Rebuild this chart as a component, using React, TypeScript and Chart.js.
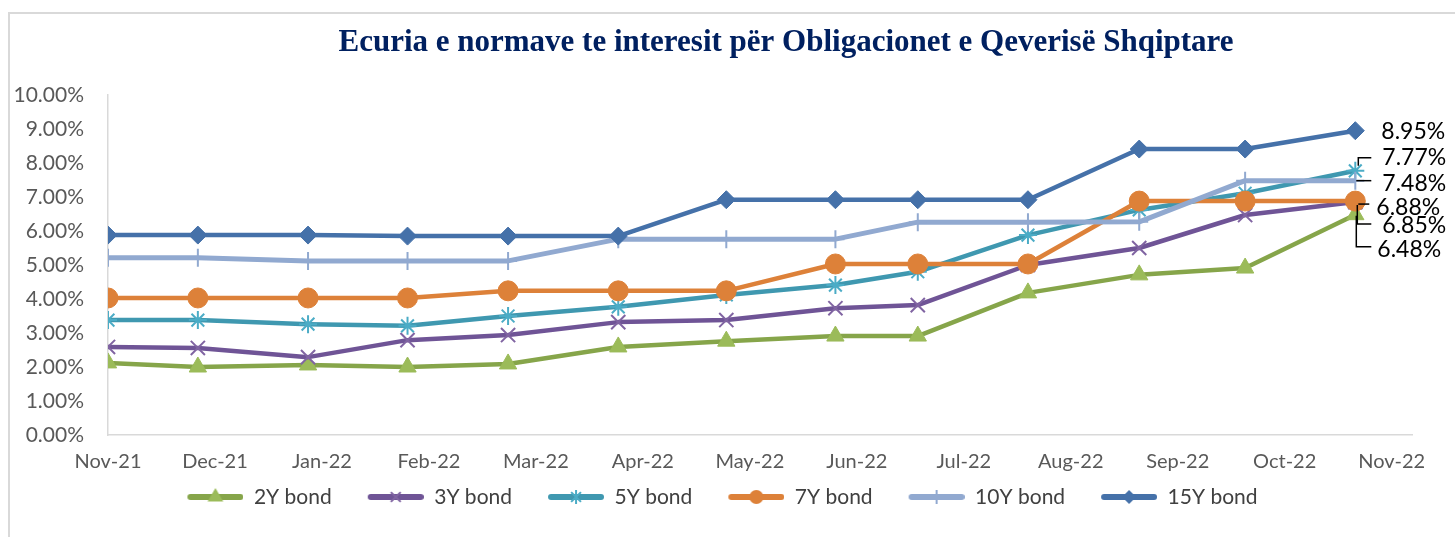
import React, { useEffect, useRef } from "react";
import { Chart, registerables } from "chart.js";

Chart.register(...registerables);

const TITLE = "Ecuria e normave te interesit për Obligacionet e Qeverisë Shqiptare";

const monthLabels = [
  "Nov-21", "Dec-21", "Jan-22", "Feb-22", "Mar-22", "Apr-22", "May-22",
  "Jun-22", "Jul-22", "Aug-22", "Sep-22", "Oct-22", "Nov-22",
];

// auction positions measured in months from Nov-21
const auctionPositions = [0, 0.84, 1.87, 2.8, 3.74, 4.77, 5.78, 6.8, 7.57, 8.6, 9.64, 10.63, 11.66];

const seriesNames = ["2Y bond", "3Y bond", "5Y bond", "7Y bond", "10Y bond", "15Y bond"];
const bond2Y = [2.12, 2.0, 2.06, 2.0, 2.09, 2.59, 2.76, 2.91, 2.91, 4.18, 4.71, 4.91, 6.48];
const bond3Y = [2.59, 2.56, 2.29, 2.79, 2.94, 3.32, 3.38, 3.73, 3.82, 5.0, 5.5, 6.47, 6.85];
const bond5Y = [3.38, 3.38, 3.26, 3.21, 3.5, 3.77, 4.12, 4.41, 4.8, 5.88, 6.62, 7.11, 7.77];
const bond7Y = [4.03, 4.03, 4.03, 4.03, 4.24, 4.24, 4.24, 5.03, 5.03, 5.03, 6.88, 6.88, 6.88];
const bond10Y = [5.21, 5.21, 5.12, 5.12, 5.12, 5.76, 5.76, 5.76, 6.26, 6.26, 6.27, 7.48, 7.48];
const bond15Y = [5.88, 5.88, 5.88, 5.85, 5.85, 5.85, 6.92, 6.92, 6.92, 6.92, 8.41, 8.41, 8.95];

const yMin = 0;
const yMax = 10;
const yStep = 1;

type Style = {
  line: string;
  marker: string;
  shape: string;
  radius: number;
  markerWidth: number;
  lineWidth: number;
};

const styles: Style[] = [
  { line: "#86A54A", marker: "#9BBB59", shape: "triangle", radius: 10, markerWidth: 1, lineWidth: 4.5 },
  { line: "#6F5496", marker: "#8064A2", shape: "crossRot", radius: 10, markerWidth: 2, lineWidth: 4.5 },
  { line: "#3F98B0", marker: "#4BACC6", shape: "star", radius: 9, markerWidth: 2, lineWidth: 4.5 },
  { line: "#DD8139", marker: "#DD8139", shape: "circle", radius: 10, markerWidth: 1, lineWidth: 4.5 },
  { line: "#91A9D0", marker: "#91A9D0", shape: "cross", radius: 9, markerWidth: 2, lineWidth: 5 },
  { line: "#4571A9", marker: "#4571A9", shape: "rectRot", radius: 9, markerWidth: 1, lineWidth: 4.5 },
];

// label placement for the last-point values (pixel offsets from the point)
const endLabelLayout = [
  { dx: 22, dy: 35, leader: [[1, 1], [1, 32], [16, 32]] },
  { dx: 27, dy: 23, leader: [[2, 3], [2, 22], [16, 22]] },
  { dx: 27, dy: -13, leader: [[16, -13], [3, -13], [3, -5]] },
  { dx: 21, dy: 6, leader: [[14, 3], [3, 3]] },
  { dx: 27, dy: 3, leader: [[16, 0], [1, 0]] },
  { dx: 26, dy: 1, leader: null as null | number[][] },
];

const LEGEND_GAP = 25; // blank space to the left of each legend symbol
const LEGEND_SYMBOL = 56;

function drawShape(ctx: CanvasRenderingContext2D, shape: string, cx: number, cy: number, r: number, color: string, lw: number) {
  ctx.fillStyle = color;
  ctx.strokeStyle = color;
  ctx.lineWidth = lw;
  ctx.beginPath();
  if (shape === "triangle") {
    ctx.moveTo(cx, cy - r);
    ctx.lineTo(cx + r * 0.87, cy + r * 0.5);
    ctx.lineTo(cx - r * 0.87, cy + r * 0.5);
    ctx.closePath();
    ctx.fill();
  } else if (shape === "circle") {
    ctx.arc(cx, cy, r, 0, Math.PI * 2);
    ctx.fill();
  } else if (shape === "rectRot") {
    ctx.moveTo(cx, cy - r);
    ctx.lineTo(cx + r, cy);
    ctx.lineTo(cx, cy + r);
    ctx.lineTo(cx - r, cy);
    ctx.closePath();
    ctx.fill();
  } else {
    const d = r * 0.7;
    if (shape === "crossRot" || shape === "star") {
      ctx.moveTo(cx - d, cy - d);
      ctx.lineTo(cx + d, cy + d);
      ctx.moveTo(cx + d, cy - d);
      ctx.lineTo(cx - d, cy + d);
    }
    if (shape === "cross" || shape === "star") {
      ctx.moveTo(cx, cy - r);
      ctx.lineTo(cx, cy + r);
    }
    if (shape === "cross") {
      ctx.moveTo(cx - r, cy);
      ctx.lineTo(cx + r, cy);
    }
    ctx.stroke();
  }
}

function legendImage(st: Style): HTMLCanvasElement {
  const c = document.createElement("canvas");
  c.width = LEGEND_GAP + LEGEND_SYMBOL;
  c.height = 22;
  const ctx = c.getContext("2d")!;
  ctx.strokeStyle = st.line;
  ctx.lineWidth = 6;
  ctx.lineCap = "round";
  ctx.beginPath();
  ctx.moveTo(LEGEND_GAP + 3, 11);
  ctx.lineTo(LEGEND_GAP + LEGEND_SYMBOL - 3, 11);
  ctx.stroke();
  ctx.lineCap = "butt";
  drawShape(ctx, st.shape, LEGEND_GAP + LEGEND_SYMBOL / 2, 11, st.shape === "triangle" ? 9 : 7, st.marker, st.markerWidth);
  return c;
}

const titlePlugin = {
  id: "customTitle",
  afterDraw(chart: any) {
    const ctx: CanvasRenderingContext2D = chart.ctx;
    ctx.save();
    ctx.font = "bold 31px 'Liberation Serif', serif";
    ctx.fillStyle = "#002060";
    ctx.textAlign = "center";
    ctx.textBaseline = "middle";
    ctx.fillText(TITLE, 786, 43);
    ctx.restore();
  },
};

const endLabelsPlugin = {
  id: "endLabels",
  afterDatasetsDraw(chart: any) {
    const ctx: CanvasRenderingContext2D = chart.ctx;
    ctx.save();
    ctx.font = "23px Lato";
    ctx.fillStyle = "#000000";
    ctx.strokeStyle = "#000000";
    ctx.lineWidth = 1.5;
    ctx.textAlign = "left";
    ctx.textBaseline = "middle";
    chart.data.datasets.forEach((ds: any, i: number) => {
      const meta = chart.getDatasetMeta(i);
      const pt = meta.data[meta.data.length - 1];
      const val = ds.data[ds.data.length - 1].y;
      const lay = endLabelLayout[i];
      ctx.fillText(val.toFixed(2) + "%", pt.x + lay.dx, pt.y + lay.dy);
      if (lay.leader) {
        ctx.beginPath();
        lay.leader.forEach((p, k) => {
          if (k === 0) ctx.moveTo(pt.x + p[0], pt.y + p[1]);
          else ctx.lineTo(pt.x + p[0], pt.y + p[1]);
        });
        ctx.stroke();
      }
    });
    ctx.restore();
  },
};

export default function App() {
  const ref = useRef<HTMLCanvasElement>(null);

  useEffect(() => {
    const canvas = ref.current!;
    const values = [bond2Y, bond3Y, bond5Y, bond7Y, bond10Y, bond15Y];
    const images = styles.map(legendImage);
    const datasets = values.map((vals, i) => {
      const st = styles[i];
      return {
        label: seriesNames[i],
        data: vals.map((v, k) => ({ x: auctionPositions[k], y: v })),
        borderColor: st.line,
        backgroundColor: st.marker,
        borderWidth: st.lineWidth,
        pointStyle: st.shape,
        pointRadius: st.radius,
        pointBackgroundColor: st.marker,
        pointBorderColor: st.marker,
        pointBorderWidth: st.markerWidth,
        tension: 0,
        order: values.length - i,
        borderJoinStyle: "round",
      };
    });

    const chart = new Chart(canvas, {
      type: "line",
      data: { datasets: datasets as any },
      plugins: [endLabelsPlugin, titlePlugin],
      options: {
        animation: false,
        responsive: false,
        devicePixelRatio: 1,
        layout: { padding: { left: 8, right: 43, top: 95, bottom: 19.5 } },
        plugins: {
          tooltip: { enabled: false },
          title: { display: false },
          legend: {
            position: "bottom",
            labels: {
              usePointStyle: true,
              pointStyleWidth: LEGEND_GAP + LEGEND_SYMBOL,
              padding: 11,
              color: "#404040",
              font: { family: "Lato", size: 21 },
              generateLabels: () =>
                seriesNames.map((name, i) => ({
                  text: name,
                  pointStyle: images[i] as any,
                  fillStyle: styles[i].line,
                  strokeStyle: styles[i].line,
                  lineWidth: 0,
                  hidden: false,
                  datasetIndex: i,
                  fontColor: "#404040",
                })),
            },
          },
        },
        scales: {
          x: {
            type: "linear",
            min: 0,
            max: 12.19,
            grid: { display: false, drawTicks: false },
            border: { display: true, color: "#d9d9d9", width: 1.5 },
            afterBuildTicks: (scale: any) => {
              scale.ticks = monthLabels.map((_, i) => ({ value: i }));
            },
            afterFit: (scale: any) => {
              scale.height = 40.5;
            },
            ticks: {
              autoSkip: false,
              maxRotation: 0,
              padding: 15,
              color: "#595959",
              font: { family: "Lato", size: 20 },
              callback: (v: any) => monthLabels[Math.round(Number(v))] ?? "",
            },
          },
          y: {
            min: yMin,
            max: yMax,
            grid: { display: false, drawTicks: false },
            border: { display: true, color: "#d9d9d9", width: 1.5 },
            afterFit: (scale: any) => {
              scale.width = 100;
            },
            ticks: {
              stepSize: yStep,
              padding: 24,
              color: "#595959",
              font: { family: "Lato", size: 21 },
              callback: (v: any) => Number(v).toFixed(2) + "%",
            },
          },
        },
      } as any,
    });
    return () => chart.destroy();
  }, []);

  return (
    <>
      <div
        style={{
          position: "absolute",
          left: 8,
          top: 12,
          width: 1447,
          height: 525,
          borderLeft: "2px solid #d9d9d9",
          borderTop: "2px solid #d9d9d9",
          boxSizing: "border-box",
        }}
      />
      <canvas
        ref={ref}
        width={1455}
        height={537}
        style={{ position: "absolute", left: 0, top: 0, width: 1455, height: 537 }}
      />
    </>
  );
}
